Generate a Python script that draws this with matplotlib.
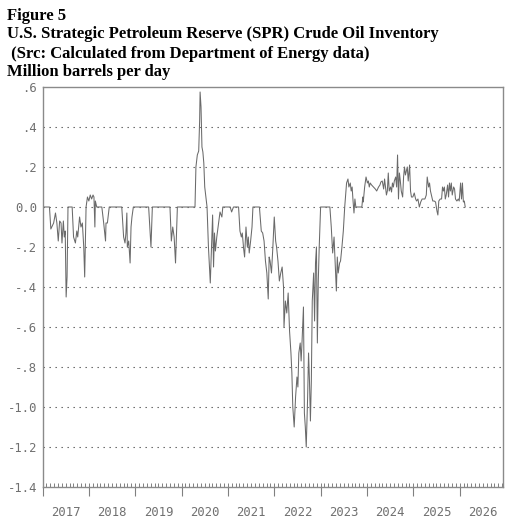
import numpy as np
import matplotlib
matplotlib.use("Agg")
import matplotlib.pyplot as plt
from matplotlib.ticker import NullFormatter

# weekly-ish readings, decimal year vs million barrels per day
t = [2017.00, 2017.15, 2017.18, 2017.24, 2017.28, 2017.31, 2017.34, 2017.37, 2017.40, 2017.42,
     2017.45, 2017.47, 2017.49, 2017.51, 2017.53, 2017.55, 2017.64, 2017.67, 2017.71, 2017.74,
     2017.76, 2017.80, 2017.83, 2017.86, 2017.89, 2017.91, 2017.94, 2017.97, 2018.00, 2018.03,
     2018.06, 2018.09, 2018.11, 2018.13, 2018.14, 2018.17, 2018.28, 2018.32, 2018.36, 2018.37,
     2018.40, 2018.44, 2018.71, 2018.75, 2018.78, 2018.80, 2018.82, 2018.83, 2018.86, 2018.89,
     2018.91, 2018.93, 2018.96, 2019.29, 2019.34, 2019.37, 2019.75, 2019.78, 2019.81, 2019.84,
     2019.87, 2019.91, 2020.29, 2020.31, 2020.34, 2020.37, 2020.39, 2020.40, 2020.42, 2020.44,
     2020.46, 2020.48, 2020.50, 2020.55, 2020.58, 2020.62, 2020.65, 2020.67, 2020.69, 2020.71,
     2020.73, 2020.76, 2020.80, 2020.83, 2020.87, 2020.89, 2021.05, 2021.08, 2021.12, 2021.23,
     2021.26, 2021.29, 2021.31, 2021.34, 2021.36, 2021.39, 2021.42, 2021.44, 2021.46, 2021.49,
     2021.52, 2021.54, 2021.68, 2021.72, 2021.75, 2021.78, 2021.81, 2021.84, 2021.87, 2021.89,
     2021.91, 2021.94, 2021.97, 2022.00, 2022.03, 2022.05, 2022.08, 2022.11, 2022.14, 2022.17,
     2022.20, 2022.21, 2022.24, 2022.27, 2022.30, 2022.33, 2022.36, 2022.38, 2022.40, 2022.43,
     2022.46, 2022.49, 2022.51, 2022.53, 2022.56, 2022.58, 2022.60, 2022.63, 2022.65, 2022.67,
     2022.69, 2022.72, 2022.74, 2022.76, 2022.78, 2022.80, 2022.82, 2022.85, 2022.87, 2022.89,
     2022.91, 2022.93, 2022.95, 2022.97, 2023.00, 2023.20, 2023.23, 2023.26, 2023.29, 2023.32,
     2023.34, 2023.36, 2023.38, 2023.41, 2023.43, 2023.46, 2023.49, 2023.52, 2023.56, 2023.59,
     2023.61, 2023.64, 2023.66, 2023.68, 2023.70, 2023.72, 2023.74, 2023.76, 2023.89, 2023.91,
     2023.92, 2023.95, 2023.98, 2024.01, 2024.03, 2024.05, 2024.07, 2024.10, 2024.14, 2024.18,
     2024.21, 2024.25, 2024.28, 2024.30, 2024.33, 2024.36, 2024.38, 2024.40, 2024.42, 2024.44,
     2024.46, 2024.48, 2024.51, 2024.53, 2024.55, 2024.57, 2024.59, 2024.62, 2024.64, 2024.66,
     2024.68, 2024.70, 2024.72, 2024.74, 2024.77, 2024.79, 2024.81, 2024.83, 2024.85, 2024.87,
     2024.89, 2024.92, 2024.94, 2024.96, 2024.99, 2025.02, 2025.05, 2025.07, 2025.10, 2025.13,
     2025.16, 2025.19, 2025.22, 2025.25, 2025.28, 2025.30, 2025.33, 2025.35, 2025.37, 2025.39,
     2025.42, 2025.45, 2025.48, 2025.51, 2025.53, 2025.55, 2025.58, 2025.61, 2025.63, 2025.65,
     2025.67, 2025.69, 2025.71, 2025.74, 2025.76, 2025.78, 2025.80, 2025.82, 2025.84, 2025.87,
     2025.89, 2025.91, 2025.94, 2025.97, 2025.99, 2026.02, 2026.04, 2026.06, 2026.08, 2026.10,
     2026.12]

spr = [0.0, 0.0, -0.11, -0.08, -0.03, -0.08, -0.17, -0.07, -0.08, -0.18,
       -0.07, -0.15, -0.12, -0.45, -0.35, 0.0, 0.0, -0.15, -0.18, -0.12,
       -0.15, -0.05, -0.10, -0.08, -0.20, -0.35, 0.0, 0.05, 0.03, 0.06,
       0.04, 0.06, 0.05, -0.10, 0.03, 0.0, 0.0, -0.08, -0.17, -0.08,
       -0.08, 0.0, 0.0, -0.15, -0.18, -0.13, -0.03, -0.20, -0.17, -0.28,
       -0.10, -0.05, 0.0, 0.0, -0.20, 0.0, 0.0, -0.17, -0.10, -0.15,
       -0.28, 0.0, 0.0, 0.20, 0.26, 0.28, 0.43, 0.575, 0.50, 0.30,
       0.275, 0.22, 0.10, 0.0, -0.20, -0.38, -0.17, -0.04, -0.30, -0.13,
       -0.22, -0.15, -0.08, -0.025, -0.05, 0.0, 0.0, -0.025, 0.0, 0.0,
       -0.12, -0.15, -0.13, -0.21, -0.25, -0.10, -0.20, -0.15, -0.23, -0.17,
       -0.10, 0.0, 0.0, -0.12, -0.13, -0.17, -0.27, -0.33, -0.46, -0.25,
       -0.27, -0.33, -0.20, -0.05, -0.17, -0.20, -0.27, -0.37, -0.33, -0.30,
       -0.40, -0.60, -0.47, -0.53, -0.43, -0.62, -0.73, -0.83, -1.00, -1.10,
       -0.95, -0.85, -0.90, -0.73, -0.68, -0.77, -0.67, -0.50, -1.03, -1.10,
       -1.20, -0.95, -0.73, -0.87, -1.07, -0.87, -0.47, -0.33, -0.57, -0.28,
       -0.20, -0.68, -0.37, -0.20, 0.0, 0.0, -0.10, -0.23, -0.15, -0.32,
       -0.42, -0.25, -0.33, -0.28, -0.27, -0.20, -0.12, 0.0, 0.12, 0.14,
       0.10, 0.12, 0.08, 0.10, 0.03, -0.03, 0.04, 0.0, 0.0, 0.05,
       0.025, 0.10, 0.15, 0.12, 0.13, 0.10, 0.12, 0.11, 0.10, 0.09,
       0.08, 0.10, 0.11, 0.125, 0.13, 0.09, 0.14, 0.10, 0.06, 0.08,
       0.17, 0.08, 0.10, 0.075, 0.12, 0.10, 0.13, 0.15, 0.10, 0.26,
       0.04, 0.17, 0.13, 0.08, 0.05, 0.15, 0.20, 0.16, 0.18, 0.20,
       0.13, 0.21, 0.08, 0.05, 0.05, 0.07, 0.04, 0.03, 0.04, 0.0,
       0.025, 0.04, 0.04, 0.04, 0.06, 0.15, 0.10, 0.12, 0.08, 0.06,
       0.03, 0.03, 0.025, -0.02, -0.04, 0.03, 0.04, 0.04, 0.10, 0.08,
       0.10, 0.04, 0.06, 0.11, 0.05, 0.12, 0.08, 0.12, 0.06, 0.10,
       0.09, 0.04, 0.03, 0.04, 0.03, 0.12, 0.04, 0.12, 0.025, 0.03,
       0.0]

years = list(range(2017, 2027))
ytick_vals = [0.6, 0.4, 0.2, 0.0, -0.2, -0.4, -0.6, -0.8, -1.0, -1.2, -1.4]
ytick_labels = [".6", ".4", ".2", "0.0", "-.2", "-.4", "-.6", "-.8", "-1.0", "-1.2", "-1.4"]

W, H = 512, 523
fig = plt.figure(figsize=(W / 100, H / 100), dpi=100)
ax = fig.add_axes([42.5 / W, 1 - 487 / H, (503 - 42.5) / W, (487 - 87) / H])

ax.plot(t, spr, color="#6a6a6a", lw=0.75)

ax.set_xlim(2017.0, 2026.935)
ax.set_ylim(-1.4, 0.6)

# horizontal dotted grid
for v in ytick_vals[1:-1]:
    ax.axhline(v, color="#555555", lw=0.8, ls=(0, (1.2, 4.2)), zorder=0)

ax.set_yticks(ytick_vals, ytick_labels)
ax.tick_params(axis="y", length=0, pad=4, labelsize=8.8, labelcolor="#707070")
for lab in ax.get_yticklabels():
    lab.set_family("DejaVu Sans Mono")

# year boundary ticks (down), year labels in the middle
ax.set_xticks(years)
ax.xaxis.set_major_formatter(NullFormatter())
ax.tick_params(axis="x", which="major", direction="out", length=6.5, width=0.8, color="#808080")
ax.set_xticks([y + 0.5 for y in years], [str(y) for y in years], minor=True)
ax.tick_params(axis="x", which="minor", length=0, pad=13.5, labelsize=8.8, labelcolor="#707070")
for lab in ax.get_xticklabels(minor=True):
    lab.set_family("DejaVu Sans Mono")

# monthly ticks pointing in
sec = ax.secondary_xaxis("bottom")
sec.set_xticks([y + m / 12 for y in years for m in range(12)])
sec.xaxis.set_major_formatter(NullFormatter())
sec.tick_params(direction="in", length=3, width=0.7, color="#808080")
sec.spines["bottom"].set_visible(False)

for s in ax.spines.values():
    s.set_color("#8a8a8a")
    s.set_linewidth(1.0)

lines = ["Figure 5",
         "U.S. Strategic Petroleum Reserve (SPR) Crude Oil Inventory",
         " (Src: Calculated from Department of Energy data)",
         "Million barrels per day"]
for i, txt in enumerate(lines):
    fig.text(7 / W, 1 - (19.5 + 19 * i) / H, txt, family="Liberation Serif",
             weight="bold", size=12, va="baseline", ha="left")

fig.savefig("out.png", dpi=100)
